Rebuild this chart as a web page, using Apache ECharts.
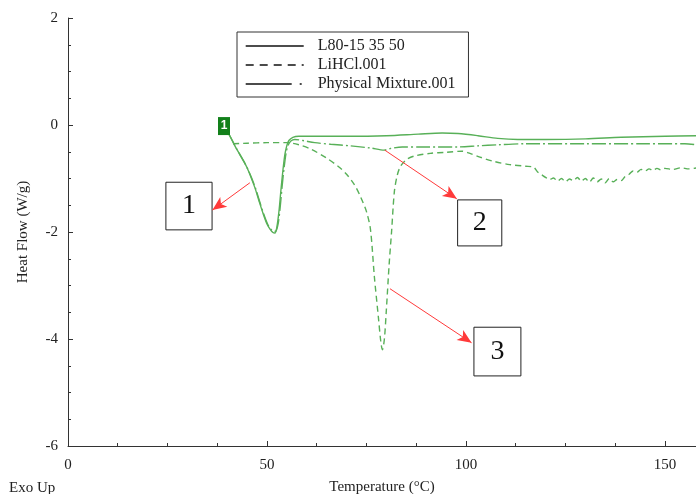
<!DOCTYPE html>
<html>
<head>
<meta charset="utf-8">
<script src="https://cdn.jsdelivr.net/npm/echarts@6/dist/echarts.min.js"></script>
<style>
html,body{margin:0;padding:0;background:#fff;}
#chart{width:696px;height:494px;}
</style>
</head>
<body>
<div id="chart"></div>
<script>
const seriesNames = ['L80-15 35 50', 'LiHCl.001', 'Physical Mixture.001'];
const xTicks = [0, 50, 100, 150];
const yTicks = [-6, -4, -2, 0, 2];

const l80 = [[40,-0.12],[41,-0.25],[42,-0.4],[43,-0.53],[44,-0.66],[45,-0.8],[46,-0.98],[47,-1.18],[48,-1.42],[49,-1.65],[50,-1.85],[50.8,-1.95],[51.5,-2.01],[52,-2.02],[52.5,-1.9],[53,-1.62],[53.5,-1.22],[54,-0.85],[54.5,-0.55],[55,-0.38],[55.5,-0.29],[56.5,-0.23],[58,-0.21],[62,-0.21],[70,-0.21],[80,-0.2],[88,-0.17],[94,-0.15],[98,-0.16],[103,-0.2],[108,-0.25],[113,-0.27],[120,-0.27],[130,-0.26],[139,-0.23],[150,-0.21],[158,-0.2]];

const lihcl = [[41.5,-0.35],[45,-0.34],[50,-0.33],[55,-0.33],[58,-0.37],[61,-0.45],[65,-0.62],[68,-0.78],[70,-0.92],[72,-1.12],[73.5,-1.34],[75,-1.62],[76,-1.95],[77,-2.85],[78,-3.6],[78.6,-4.05],[79,-4.2],[79.5,-4.0],[80,-3.45],[80.7,-2.6],[81.3,-2.0],[82,-1.25],[82.7,-0.95],[83.5,-0.78],[85,-0.65],[87,-0.58],[91,-0.53],[95,-0.51],[99,-0.49],[101,-0.53],[103.5,-0.6],[107,-0.68],[111,-0.74],[115,-0.77],[117,-0.79],[118,-0.88],[119,-0.93],[120,-0.98],[121,-1.02],[122,-0.99],[123,-1.05],[124,-1.0],[125,-1.06],[126,-1.01],[127,-1.04],[128,-0.98],[129,-1.05],[130,-1.0],[131,-1.07],[132,-0.99],[133,-1.06],[134,-1.01],[135,-1.08],[136,-1.0],[137,-1.06],[138,-1.02],[139,-1.04],[140,-0.96],[141,-0.92],[142,-0.86],[143,-0.88],[144,-0.83],[145,-0.86],[146,-0.82],[147,-0.85],[148,-0.81],[149,-0.84],[150,-0.81],[152,-0.83],[154,-0.8],[156,-0.82],[158,-0.8]];

const mixture = [[40.3,-0.15],[41.2,-0.28],[42.2,-0.42],[43.2,-0.55],[44.2,-0.68],[45.2,-0.83],[46.2,-1.0],[47.2,-1.2],[48.2,-1.44],[49.2,-1.67],[50.2,-1.86],[51,-1.95],[51.8,-1.99],[52.3,-1.98],[52.8,-1.85],[53.3,-1.55],[53.8,-1.15],[54.3,-0.8],[54.8,-0.52],[55.3,-0.38],[56,-0.3],[57,-0.27],[59,-0.29],[62,-0.33],[66,-0.36],[71,-0.39],[76,-0.43],[79.5,-0.47],[81,-0.44],[84,-0.41],[90,-0.41],[98,-0.41],[103,-0.39],[108,-0.37],[115,-0.35],[130,-0.35],[145,-0.35],[155,-0.35],[158,-0.37]];

// annotation boxes [label, x1, y1, x2, y2] and arrows [from, to] in data units
const boxes = [['1', 24.6, -1.07, 36.2, -1.96], ['2', 97.9, -1.40, 109.0, -2.26], ['3', 102.0, -3.78, 113.8, -4.69]];
const arrows = [[[45.7, -1.08], [36.3, -1.59]], [[79.6, -0.47], [97.7, -1.38]], [[80.9, -3.06], [101.4, -4.07]]];

const serif = '"Liberation Serif", "Times New Roman", serif';
const green = '#58b058';
const hiddenSym = {opacity: 0, color: 'transparent', borderWidth: 0};

const chart = echarts.init(document.getElementById('chart'), null, {renderer: 'canvas'});
chart.setOption({
  animation: false,
  backgroundColor: '#fff',
  textStyle: {fontFamily: serif},
  title: {
    text: 'Exo Up', left: 4, top: 476,
    textStyle: {fontFamily: serif, fontSize: 15, fontWeight: 'normal', color: '#222'}
  },
  grid: {left: 68, right: 0, top: 18, bottom: 48, containLabel: false, outerBoundsMode: 'none'},
  legend: {
    orient: 'vertical', left: 237, top: 32,
    padding: [6, 13, 5, 8], itemGap: 3, itemWidth: 58, itemHeight: 14,
    borderColor: '#333', borderWidth: 1,
    itemStyle: hiddenSym,
    textStyle: {fontFamily: serif, fontSize: 16, lineHeight: 14, color: '#222', padding: [0, 0, 0, 9]},
    data: [
      {name: seriesNames[0], itemStyle: hiddenSym, lineStyle: {color: '#111', width: 1.4, type: 'solid'}},
      {name: seriesNames[1], itemStyle: hiddenSym, lineStyle: {color: '#111', width: 1.4, type: [8, 6]}},
      {name: seriesNames[2], itemStyle: hiddenSym, lineStyle: {color: '#111', width: 1.4, type: [46, 8, 2, 8]}}
    ]
  },
  xAxis: {
    type: 'value', min: 0, max: 157.8, interval: 50,
    name: 'Temperature (°C)', nameLocation: 'middle', nameGap: 34,
    nameTextStyle: {fontFamily: serif, fontSize: 15, color: '#222'},
    axisLine: {show: true, onZero: false, lineStyle: {color: '#333', width: 1}},
    axisTick: {show: true, inside: true, length: 5, lineStyle: {color: '#333'}},
    minorTick: {show: true, splitNumber: 4, length: 3, lineStyle: {color: '#333'}},
    axisLabel: {fontFamily: serif, fontSize: 15, color: '#222', margin: 12, showMaxLabel: false},
    splitLine: {show: false}
  },
  yAxis: {
    type: 'value', min: -6, max: 2, interval: 2,
    name: 'Heat Flow (W/g)', nameLocation: 'middle', nameGap: 37,
    nameTextStyle: {fontFamily: serif, fontSize: 15, color: '#222'},
    axisLine: {show: true, lineStyle: {color: '#333', width: 1}},
    axisTick: {show: true, inside: true, length: 5, lineStyle: {color: '#333'}},
    minorTick: {show: true, splitNumber: 4, length: 3, lineStyle: {color: '#333'}},
    axisLabel: {fontFamily: serif, fontSize: 15, color: '#222', margin: 10},
    splitLine: {show: false}
  },
  series: [
    {
      name: seriesNames[0], type: 'line', data: l80, symbol: 'none', smooth: 0.3, z: 3,
      lineStyle: {color: green, width: 1.4, type: 'solid'}, itemStyle: {color: green},
      markPoint: {
        symbol: 'rect', symbolSize: [12, 18], silent: true,
        itemStyle: {color: '#12801a', opacity: 1},
        label: {show: true, formatter: '1', color: '#fff', fontSize: 12, fontWeight: 'bold', fontFamily: 'Liberation Sans, Arial'},
        data: [{coord: [39.2, -0.02]}]
      },
      markArea: {
        silent: true,
        itemStyle: {color: '#fff', borderColor: '#222', borderWidth: 1, opacity: 1},
        label: {show: true, position: 'inside', fontFamily: serif, fontSize: 28, color: '#111'},
        data: boxes.map(b => [{name: b[0], coord: [b[1], b[2]]}, {coord: [b[3], b[4]]}])
      },
      markLine: {
        silent: true, symbol: ['none', 'arrow'], symbolSize: [9, 14],
        lineStyle: {color: '#ff3a3a', width: 1, type: 'solid'},
        label: {show: false},
        data: arrows.map(a => [{coord: a[0]}, {coord: a[1]}])
      }
    },
    {
      name: seriesNames[1], type: 'line', data: lihcl, symbol: 'none', smooth: 0.3, z: 2,
      lineStyle: {color: green, width: 1.4, type: [6, 4]}, itemStyle: {color: green}
    },
    {
      name: seriesNames[2], type: 'line', data: mixture, symbol: 'none', smooth: 0.3, z: 2,
      lineStyle: {color: green, width: 1.4, type: [14, 3, 2, 3]}, itemStyle: {color: green}
    }
  ]
});
</script>
</body>
</html>
